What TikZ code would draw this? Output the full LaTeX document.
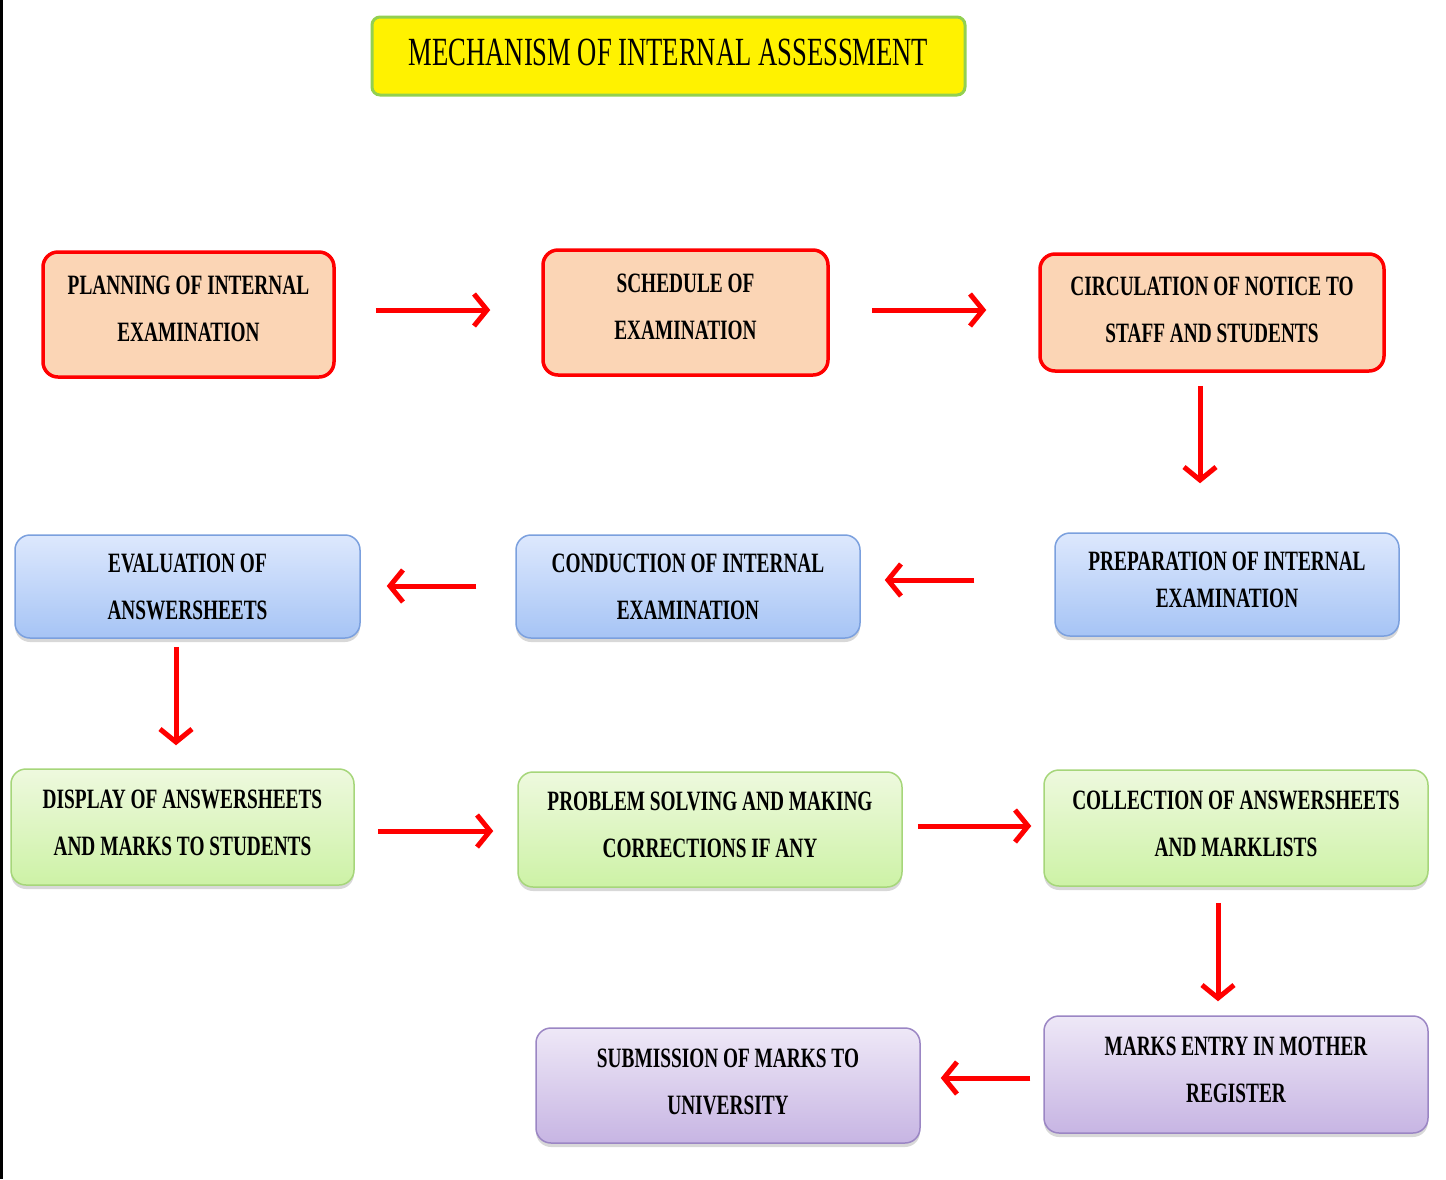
\documentclass[tikz,border=0pt]{standalone}
\usepackage{fontspec}
\setmainfont[FakeStretch=0.69]{Liberation Serif}
\newfontfamily\titlefont[FakeStretch=0.665]{Liberation Serif}
\usetikzlibrary{arrows.meta,shadows}
\definecolor{orfill}{HTML}{FBD5B5}
\definecolor{bltop}{HTML}{DDE8FD}
\definecolor{blbot}{HTML}{A6C4F5}
\definecolor{bldraw}{HTML}{7BA0DE}
\definecolor{grtop}{HTML}{EEF9DE}
\definecolor{grbot}{HTML}{CDF2A6}
\definecolor{grdraw}{HTML}{A6D67A}
\definecolor{putop}{HTML}{EEE8F7}
\definecolor{pubot}{HTML}{C7B5E3}
\definecolor{pudraw}{HTML}{9B86C4}
\definecolor{ttdraw}{HTML}{92D050}
\tikzset{
  box/.style={rectangle, rounded corners=15pt, inner sep=0pt, align=center,
    font=\bfseries\fontsize{28}{47}\selectfont, text depth=9pt},
  orbox/.style={box, fill=orfill, draw=red, line width=3.5pt},
  shbox/.style={box, line width=1.5pt, drop shadow={shadow xshift=0pt, shadow yshift=-4pt, opacity=0.3}},
  blbox/.style={shbox, top color=bltop, bottom color=blbot, draw=bldraw},
  grbox/.style={shbox, top color=grtop, bottom color=grbot, draw=grdraw},
  pubox/.style={shbox, top color=putop, bottom color=pubot, draw=pudraw},
  arr/.style={draw=red, line width=5pt, -{Straight Barb[length=13pt,width=32pt]}},
}
\begin{document}
\begin{tikzpicture}[x=1pt,y=-1pt]
\useasboundingbox (0,0) rectangle (1446,1179);
\fill[white] (0,0) rectangle (1446,1179);
\fill[black] (0,0) rectangle (3,1179);

\node[rectangle, rounded corners=8pt, fill=yellow, draw=ttdraw, line width=3pt,
  minimum width=593pt, minimum height=78pt, text depth=8pt, font=\titlefont\fontsize{40}{40}\selectfont]
  (T) at (668.5,56) {MECHANISM OF INTERNAL ASSESSMENT};

\node[orbox, minimum width=291pt, minimum height=125pt, text depth=12pt] (A) at (188.5,314.5) {PLANNING OF INTERNAL\\EXAMINATION};
\node[orbox, minimum width=285pt, minimum height=125pt, text depth=12pt] (B) at (685.5,312.5) {SCHEDULE OF\\EXAMINATION};
\node[orbox, minimum width=344pt, minimum height=117pt, text depth=5pt] (C) at (1212,312.5) {CIRCULATION OF NOTICE TO\\STAFF AND STUDENTS};

\node[blbox, minimum width=345pt, minimum height=103pt, text depth=0pt] (D) at (187.5,586.5) {EVALUATION OF\\ANSWERSHEETS};
\node[blbox, minimum width=344pt, minimum height=103pt, text depth=0pt] (E) at (688,586.5) {CONDUCTION OF INTERNAL\\EXAMINATION};
\node[blbox, minimum width=344pt, minimum height=103pt, font=\bfseries\fontsize{28}{37}\selectfont] (F) at (1227,584.5) {PREPARATION OF INTERNAL\\EXAMINATION};

\node[grbox, minimum width=343pt, minimum height=116pt] (G) at (182.5,827) {DISPLAY OF ANSWERSHEETS\\AND MARKS TO STUDENTS};
\node[grbox, minimum width=384pt, minimum height=115pt] (H) at (710,829.5) {PROBLEM SOLVING AND MAKING\\CORRECTIONS IF ANY};
\node[grbox, minimum width=384pt, minimum height=116pt] (I) at (1236,828) {COLLECTION OF ANSWERSHEETS\\AND MARKLISTS};

\node[pubox, minimum width=384pt, minimum height=117pt] (K) at (1236,1074.5) {MARKS ENTRY IN MOTHER\\REGISTER};
\node[pubox, minimum width=384pt, minimum height=115pt, text depth=7pt] (J) at (728,1085.5) {SUBMISSION OF MARKS TO\\UNIVERSITY};

\draw[arr, shorten <=40pt, shorten >=51pt] ([yshift=4.5pt]A.east) -- ([yshift=4.5pt]A.east -| B.west);
\draw[arr, shorten <=42pt, shorten >=52pt] ([yshift=2.5pt]B.east) -- ([yshift=2.5pt]B.east -| C.west);
\draw[arr, shorten <=13pt, shorten >=49pt] ([xshift=-12pt]C.south) -- ([xshift=-12pt]C.south |- F.north);
\draw[arr, shorten <=80pt, shorten >=24pt] ([yshift=4.5pt]F.west) -- ([yshift=4.5pt]F.west -| E.east);
\draw[arr, shorten <=39pt, shorten >=26pt] ([yshift=0.5pt]E.west) -- ([yshift=0.5pt]E.west -| D.east);
\draw[arr, shorten <=8pt, shorten >=23pt] ([xshift=-11.5pt]D.south) -- ([xshift=-11.5pt]D.south |- G.north);
\draw[arr, shorten <=23pt, shorten >=24pt] ([yshift=-4pt]G.east) -- ([yshift=-4pt]G.east -| H.west);
\draw[arr, shorten <=15pt, shorten >=12pt] ([yshift=3.5pt]H.east) -- ([yshift=3.5pt]H.east -| I.west);
\draw[arr, shorten <=16pt, shorten >=14pt] ([xshift=-18pt]I.south) -- ([xshift=-18pt]I.south |- K.north);
\draw[arr, shorten <=13pt, shorten >=20pt] ([yshift=-3.5pt]K.west) -- ([yshift=-3.5pt]K.west -| J.east);
\end{tikzpicture}
\end{document}
